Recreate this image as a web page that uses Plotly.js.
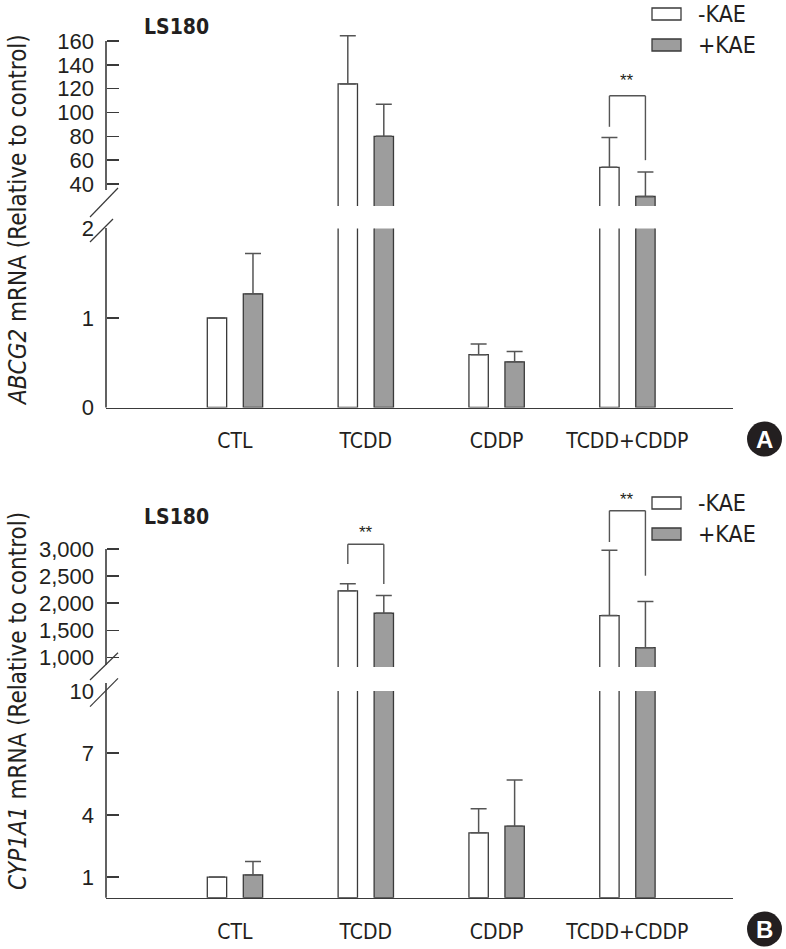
<!DOCTYPE html>
<html>
<head>
<meta charset="utf-8">
<script src="https://cdn.plot.ly/plotly-3.0.1.min.js"></script>
<style>html,body{margin:0;padding:0;background:#fff;}#chart{width:786px;height:949px;}</style>
</head>
<body>
<div id="chart"></div>
<script>
// ---------- data ----------
const categories = ['CTL', 'TCDD', 'CDDP', 'TCDD+CDDP'];
const seriesNames = ['-KAE', '+KAE'];

// Panel A: ABCG2 mRNA
const abcg2Minus    = [1.0, 124, 0.59, 54];
const abcg2MinusErr = [null, 40.5, 0.12, 25];
const abcg2Plus     = [1.27, 80, 0.51, 29.5];
const abcg2PlusErr  = [0.45, 27, 0.115, 20.5];

// Panel B: CYP1A1 mRNA
const cyp1a1Minus    = [1.0, 2228, 3.14, 1772];
const cyp1a1MinusErr = [null, 129, 1.16, 1204];
const cyp1a1Plus     = [1.1, 1815, 3.46, 1180];
const cyp1a1PlusErr  = [0.65, 328, 2.24, 851];

// tick labels
const abcg2LowTicks  = [0, 1, 2];
const abcg2HighTicks = [40, 60, 80, 100, 120, 140, 160];
const cypLowTicks    = [1, 4, 7, 10];
const cypHighTicks   = [1000, 1500, 2000, 2500, 3000];

// significance brackets: [category index, top, left leg bottom, right leg bottom]
const sigA = [[3, 114, 88, 60]];
const sigB = [[1, 3087, 2723, 2354], [3, 3707, 3129, 2507]];

// ---------- style helpers ----------
const W = 786, H = 949;
const px = x => x / W;
const py = y => 1 - y / H;
const NARROW = '"Liberation Sans Narrow", "Arial Narrow", "DejaVu Sans Condensed", "Liberation Sans", sans-serif';
const REG = '"Liberation Sans", Arial, sans-serif';
const TXT = '#231f20';
const LINE = '#3a3a3a';
const GRAY = '#9d9d9d';

const barW = 0.148;
const offMinus = -0.2116, offPlus = 0.0636;
const cMinus = offMinus + barW / 2, cPlus = offPlus + barW / 2;

function errObj(arr) {
  return {type: 'data', symmetric: false, array: arr, arrayminus: arr.map(() => 0),
          color: '#555', thickness: 1.5, width: 8};
}
function barTrace(vals, errs, fill, off, xa, ya) {
  return {type: 'bar', x: categories, y: vals, width: barW, offset: off,
          xaxis: xa, yaxis: ya, showlegend: false, hoverinfo: 'skip',
          marker: {color: fill, line: {color: LINE, width: 1.3}},
          error_y: errObj(errs)};
}

const traces = [
  barTrace(abcg2Minus, abcg2MinusErr, '#ffffff', offMinus, 'x', 'y'),
  barTrace(abcg2Plus, abcg2PlusErr, GRAY, offPlus, 'x', 'y'),
  barTrace(abcg2Minus, abcg2MinusErr, '#ffffff', offMinus, 'x', 'y2'),
  barTrace(abcg2Plus, abcg2PlusErr, GRAY, offPlus, 'x', 'y2'),
  barTrace(cyp1a1Minus, cyp1a1MinusErr, '#ffffff', offMinus, 'x2', 'y3'),
  barTrace(cyp1a1Plus, cyp1a1PlusErr, GRAY, offPlus, 'x2', 'y3'),
  barTrace(cyp1a1Minus, cyp1a1MinusErr, '#ffffff', offMinus, 'x2', 'y4'),
  barTrace(cyp1a1Plus, cyp1a1PlusErr, GRAY, offPlus, 'x2', 'y4')
];

// pixel geometry of segments
const xDom = [px(106), px(733)];
const xRange = [-0.986, 3.807];
const kA = 143 / 120;             // px per unit, A upper
const kB = (630.3 - 549) / 1500;  // px per unit, B upper

function xAxis(anchor) {
  return {domain: xDom, range: xRange, type: 'category', anchor: anchor,
          showline: true, linecolor: LINE, linewidth: 1.6, ticks: '',
          showgrid: false, zeroline: false, ticklabelstandoff: 14,
          tickfont: {family: NARROW, size: 21, color: TXT}};
}
function yAxis(dom, range, ticks, fmt) {
  return {domain: dom, range: range, tickvals: ticks, tickformat: fmt || '',
          anchor: 'free', position: px(106), showline: false, showgrid: false, zeroline: false,
          ticks: 'inside', ticklen: 12, tickwidth: 1.5, tickcolor: LINE,
          ticklabelstandoff: 12,
          tickfont: {family: REG, size: 22, color: TXT}};
}

const shapes = [];
const annotations = [];
function pline(x0, y0, x1, y1, w) {
  shapes.push({type: 'line', xref: 'paper', yref: 'paper', x0: px(x0), y0: py(y0), x1: px(x1), y1: py(y1),
               line: {color: LINE, width: w || 1.6}});
}
// axis lines + break marks
pline(106, 41, 106, 190); pline(106, 228, 106, 407.5);
pline(90, 217, 118, 188, 1.2); pline(90, 242, 113, 219, 1.2);
pline(106, 549, 106, 665); pline(106, 683, 106, 897.7);
pline(90, 680, 118, 652.7, 1.2); pline(90, 706.7, 118, 678.3, 1.2);

// significance brackets
function bracket(sig, xa, ya, shift) {
  sig.forEach(s => {
    const [ci, top, lb, rb] = s;
    const xl = ci + cMinus, xr = ci + cPlus;
    const L = {color: '#555', width: 1.4};
    shapes.push({type: 'line', xref: xa, yref: ya, x0: xl, x1: xl, y0: lb, y1: top, line: L});
    shapes.push({type: 'line', xref: xa, yref: ya, x0: xl, x1: xr, y0: top, y1: top, line: L});
    shapes.push({type: 'line', xref: xa, yref: ya, x0: xr, x1: xr, y0: top, y1: rb, line: L});
    annotations.push({xref: xa, yref: ya, x: ci + (cMinus + cPlus) / 2, y: top, text: '**',
                      showarrow: false, yanchor: 'bottom', yshift: shift,
                      font: {family: REG, size: 17, color: TXT}});
  });
}
bracket(sigA, 'x', 'y2', 4);
bracket(sigB, 'x2', 'y4', 0);

// legends
function legend(yWhite, yGray) {
  shapes.push({type: 'rect', xref: 'paper', yref: 'paper', x0: px(652), x1: px(681),
               y0: py(yWhite + 6), y1: py(yWhite - 6), fillcolor: '#fff', line: {color: LINE, width: 1.3}});
  shapes.push({type: 'rect', xref: 'paper', yref: 'paper', x0: px(652), x1: px(681),
               y0: py(yGray + 6), y1: py(yGray - 6), fillcolor: GRAY, line: {color: LINE, width: 1.3}});
  annotations.push({xref: 'paper', yref: 'paper', x: px(696), y: py(yWhite), xanchor: 'left', yanchor: 'middle',
                    text: seriesNames[0], showarrow: false, font: {family: NARROW, size: 23, color: TXT}});
  annotations.push({xref: 'paper', yref: 'paper', x: px(696), y: py(yGray), xanchor: 'left', yanchor: 'middle',
                    text: seriesNames[1], showarrow: false, font: {family: NARROW, size: 23, color: TXT}});
}
legend(14, 45);
legend(503, 534);

// titles and badges
function panelText(titleY, yTitle, yTitleCenter, badge, badgeY) {
  annotations.push({xref: 'paper', yref: 'paper', x: px(176), y: py(titleY), text: '<b>LS180</b>',
                    showarrow: false, xanchor: 'center', yanchor: 'middle',
                    font: {family: NARROW, size: 21, color: TXT}});
  annotations.push({xref: 'paper', yref: 'paper', x: px(18), y: py(yTitleCenter), text: yTitle,
                    textangle: -90, showarrow: false, xanchor: 'center', yanchor: 'middle',
                    font: {family: NARROW, size: 24, color: TXT}});
  shapes.push({type: 'circle', xref: 'paper', yref: 'paper', x0: px(747), x1: px(782),
               y0: py(badgeY + 17.5), y1: py(badgeY - 17.5), fillcolor: '#231f20', line: {width: 0}});
  annotations.push({xref: 'paper', yref: 'paper', x: px(764.5), y: py(badgeY), text: '<b>' + badge + '</b>',
                    showarrow: false, xanchor: 'center', yanchor: 'middle',
                    font: {family: REG, size: 24, color: '#ffffff'}});
}
panelText(27, '<i>ABCG2</i> mRNA (Relative to control)', 220, 'A', 439);
panelText(517, '<i>CYP1A1</i> mRNA (Relative to control)', 701, 'B', 929);

const layout = {
  width: W, height: H,
  margin: {l: 0, r: 0, t: 0, b: 0},
  paper_bgcolor: '#fff', plot_bgcolor: 'rgba(0,0,0,0)',
  showlegend: false,
  barmode: 'overlay',
  xaxis: xAxis('y'),
  xaxis2: xAxis('y3'),
  yaxis: yAxis([py(407.5), py(228.5)], [0, 2], abcg2LowTicks),
  yaxis2: yAxis([py(206), py(25)], [160 - (206 - 41) / kA, 160 + (41 - 25) / kA], abcg2HighTicks),
  yaxis3: yAxis([py(897.7), py(691)], [0, 10], cypLowTicks),
  yaxis4: yAxis([py(667), py(495)], [3000 - (667 - 549) / kB, 3000 + (549 - 495) / kB], cypHighTicks, ','),
  shapes: shapes,
  annotations: annotations
};

Plotly.newPlot('chart', traces, layout, {displayModeBar: false, staticPlot: true});
</script>
</body>
</html>
